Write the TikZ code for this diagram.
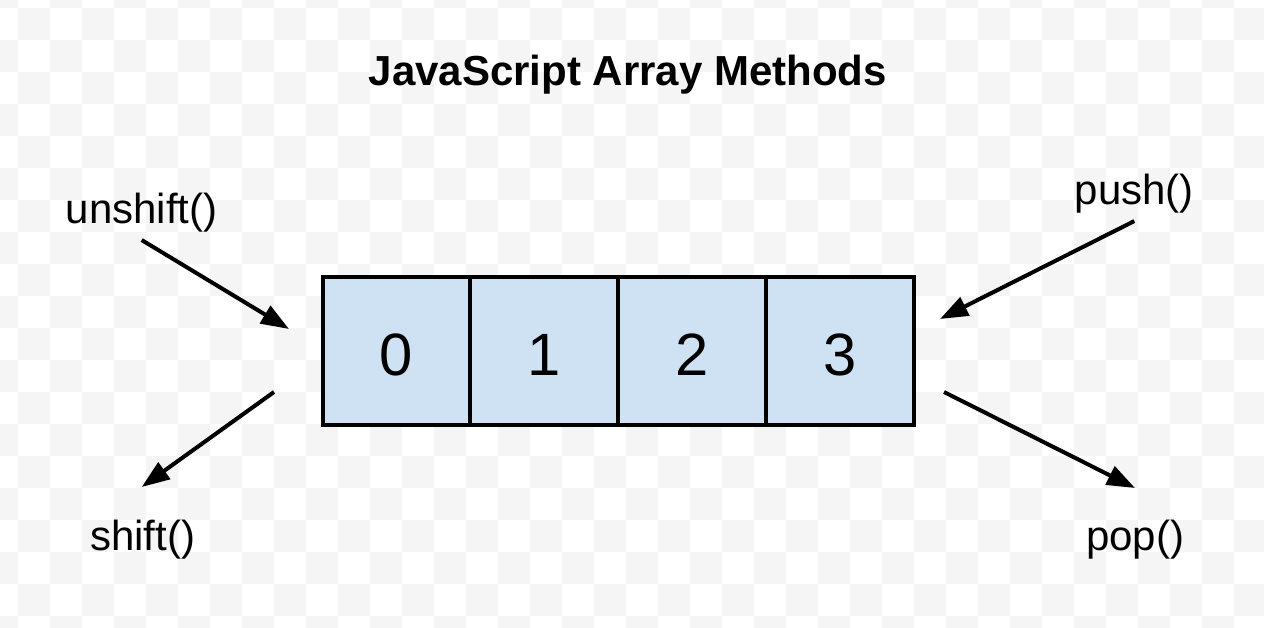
\documentclass[tikz,border=0pt]{standalone}
\usepackage{fontspec}
\setmainfont{Liberation Sans}
\usetikzlibrary{positioning, arrows.meta}
\definecolor{cellblue}{HTML}{CFE2F3}
\definecolor{checker}{HTML}{F5F5F5}

\begin{document}
\begin{tikzpicture}[x=0.02cm, y=-0.02cm,
method/.style={inner sep=0.14cm, font=\fontsize{23.9}{28}\selectfont},
cell/.style={draw, line width=0.08cm, fill=cellblue, minimum width=2.96cm, minimum height=2.954cm,
  inner sep=0pt, outer sep=0pt, text height=1cm, text depth=0pt, font=\fontsize{34}{40}\selectfont},
arr/.style={line width=0.08cm, -{Triangle[length=0.56cm, width=0.4cm]}},]
\useasboundingbox (0,0) rectangle (1264,628);
%checkerboard background
\begin{scope}
\clip (0,0) rectangle (1264,628);
\foreach \i in {-1,...,39} \foreach \j in {-1,...,19} {
	\pgfmathtruncatemacro\parity{mod(\i+\j+2,2)}
	\ifnum\parity=0 \fill[checker] (18+32*\i, 8+32*\j) rectangle ++(32,32); \fi
}
\end{scope}

\node[font=\bfseries\fontsize{23.9}{28}\selectfont, anchor=base] (title) at (627.7,85.4) {JavaScript Array Methods};

\node[cell] (c0) at (396.5,351) {0};
\node[cell, right=0pt of c0] (c1) {1};
\node[cell, right=0pt of c1] (c2) {2};
\node[cell, right=0pt of c2] (c3) {3};

\node[method, anchor=base] (unshift) at (141.7,224) {unshift()};
\node[method, anchor=base] (shift) at (142.5,550.7) {shift()};
\node[method, anchor=base] (push) at (1134.3,205) {push()};
\node[method, anchor=base] (pop) at (1135,550) {pop()};

\coordinate (unshift tip) at (289,329);
\coordinate (shift tail) at (274,392);
\coordinate (shift tip) at (141.7,487);
\coordinate (push tip) at (940,319);
\coordinate (pop tail) at (944,392);
\coordinate (pop tip) at (1135,488);

\draw[arr] (unshift.south) -- (unshift tip);
\draw[arr] (shift tail) -- (shift tip);
\draw[arr] (push.south) -- (push tip);
\draw[arr] (pop tail) -- (pop tip);
\end{tikzpicture}
\end{document}
